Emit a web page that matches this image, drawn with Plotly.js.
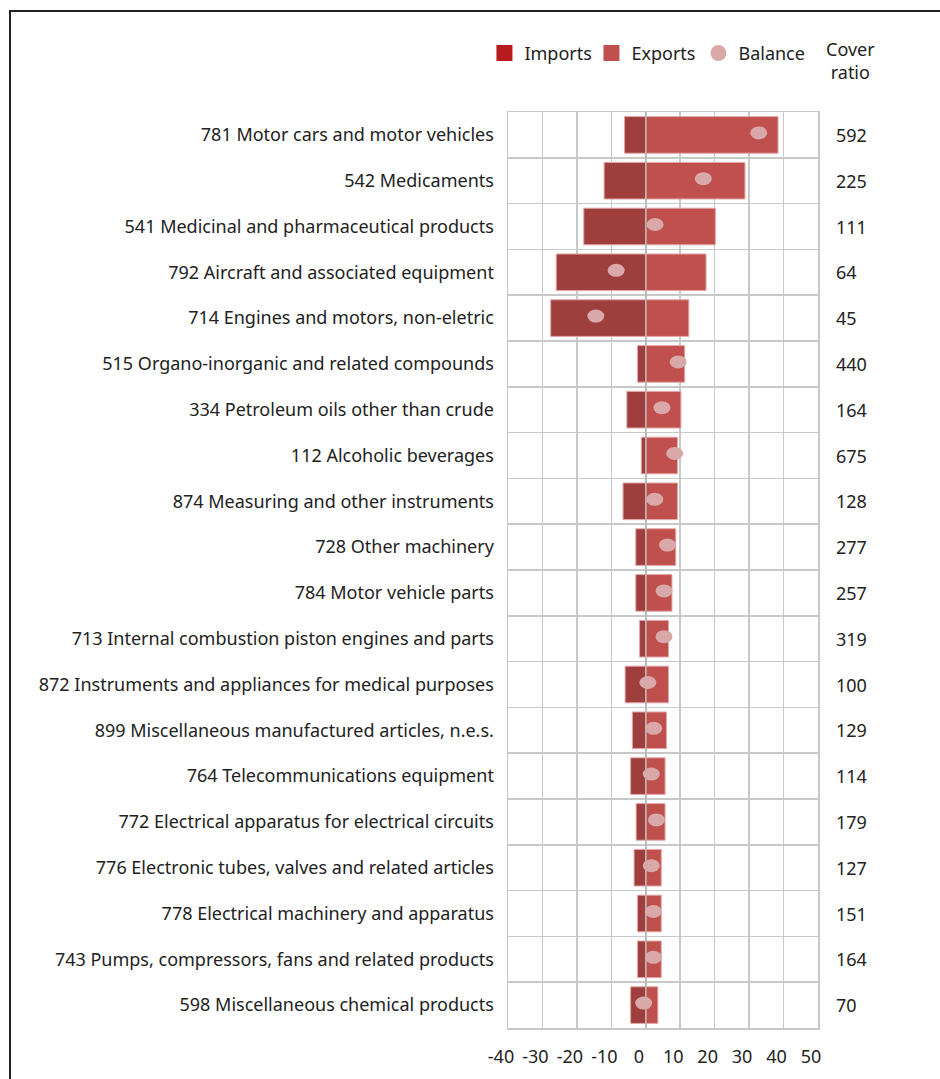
<!DOCTYPE html>
<html>
<head>
<meta charset="utf-8">
<script src="https://cdn.plot.ly/plotly-3.0.1.min.js"></script>
<style>
  html, body { margin: 0; padding: 0; background: #fff; }
  #chart { width: 940px; height: 1079px; }
  #frame { position: absolute; left: 9px; top: 10px; width: 1200px; height: 1200px;
           border-left: 2px solid #222; border-top: 2px solid #222; pointer-events: none; }
</style>
</head>
<body>
<div id="chart"></div>
<div id="frame"></div>
<script>
const categories = [
  "781 Motor cars and motor vehicles",
  "542 Medicaments",
  "541 Medicinal and pharmaceutical products",
  "792 Aircraft and associated equipment",
  "714 Engines and motors, non-eletric",
  "515 Organo-inorganic and related compounds",
  "334 Petroleum oils other than crude",
  "112 Alcoholic beverages",
  "874 Measuring and other instruments",
  "728 Other machinery",
  "784 Motor vehicle parts",
  "713 Internal combustion piston engines and parts",
  "872 Instruments and appliances for medical purposes",
  "899 Miscellaneous manufactured articles, n.e.s.",
  "764 Telecommunications equipment",
  "772 Electrical apparatus for electrical circuits",
  "776 Electronic tubes, valves and related articles",
  "778 Electrical machinery and apparatus",
  "743 Pumps, compressors, fans and related products",
  "598 Miscellaneous chemical products"
];
const imports = [6.2, 12.1, 18.0, 26.0, 27.6, 2.4, 5.5, 1.3, 6.6, 2.9, 2.9, 1.8, 6.0, 3.9, 4.4, 2.8, 3.4, 2.4, 2.4, 4.4];
const exports = [38.4, 28.8, 20.2, 17.5, 12.5, 11.3, 10.2, 9.2, 9.2, 8.7, 7.6, 6.6, 6.6, 6.0, 5.6, 5.6, 4.5, 4.5, 4.5, 3.5];
const balance = [32.8, 16.7, 2.7, -8.6, -14.5, 9.4, 4.7, 8.4, 2.6, 6.3, 5.3, 5.3, 0.6, 2.3, 1.6, 3.1, 1.6, 2.2, 2.2, -0.6];
const coverRatio = [592, 225, 111, 64, 45, 440, 164, 675, 128, 277, 257, 319, 100, 129, 114, 179, 127, 151, 164, 70];
const xTickVals = [-40, -30, -20, -10, 0, 10, 20, 30, 40, 50];

const FONT = "Noto Sans, sans-serif";
const TXT = "#222222";
const GRID = "#c8c8c8";

const traces = [
  {
    type: "bar", orientation: "h", name: "Imports", showlegend: false,
    y: categories, x: imports.map(v => -v), width: 0.8,
    marker: { color: "#9e3e3d", line: { color: "#e3a8a8", width: 1 } },
    hoverinfo: "skip"
  },
  {
    type: "bar", orientation: "h", name: "Exports", showlegend: false,
    y: categories, x: exports, width: 0.8,
    marker: { color: "#c0504d", line: { color: "#e3a8a8", width: 1 } },
    hoverinfo: "skip"
  },
  // legend entries
  { type: "scatter", mode: "markers", name: "Imports", x: [null], y: [null],
    marker: { symbol: "square", size: 20, color: "#b71b1c" } },
  { type: "scatter", mode: "markers", name: "Exports", x: [null], y: [null],
    marker: { symbol: "square", size: 20, color: "#c0504d" } },
  { type: "scatter", mode: "markers", name: "Balance", x: [null], y: [null],
    marker: { symbol: "circle", size: 20, color: "#d9a9a9" } }
];

const shapes = [
  { type: "line", xref: "x", yref: "paper", x0: 0, x1: 0, y0: 0, y1: 1,
    line: { color: "#b8b8b8", width: 1.5 }, layer: "above" }
];
balance.forEach((b, i) => {
  shapes.push({
    type: "circle", xref: "x", yref: "y",
    xsizemode: "pixel", ysizemode: "pixel",
    xanchor: b, yanchor: categories[i],
    x0: -8.5, x1: 8.5, y0: -4.5, y1: 8.5,
    fillcolor: "#d9a9a9", line: { width: 0 }, layer: "above"
  });
});

const annotations = coverRatio.map((c, i) => ({
  xref: "paper", yref: "y", x: 1, y: categories[i], xshift: 16, yshift: 0,
  xanchor: "left", yanchor: "middle", showarrow: false,
  text: String(c), font: { family: FONT, size: 18, color: TXT }
}));
annotations.push({
  xref: "paper", yref: "paper", x: 1, y: 1, xshift: 32, yshift: 52,
  xanchor: "center", yanchor: "middle", showarrow: false, align: "center",
  text: "Cover<br>ratio", font: { family: FONT, size: 18, color: TXT }
});

const layout = {
  width: 940, height: 1079,
  margin: { l: 508, r: 122, t: 112, b: 51 },
  paper_bgcolor: "#ffffff", plot_bgcolor: "#ffffff",
  font: { family: FONT, size: 18, color: TXT },
  barmode: "overlay",
  showlegend: true,
  legend: {
    orientation: "h", xref: "paper", yref: "paper",
    x: -0.076, y: 1.064, xanchor: "left", yanchor: "middle",
    font: { family: FONT, size: 18, color: TXT },
    entrywidth: 62, entrywidthmode: "pixels",
    bgcolor: "rgba(0,0,0,0)"
  },
  xaxis: {
    range: [-40, 50], tickvals: xTickVals, ticktext: xTickVals.map(String),
    showgrid: true, gridcolor: GRID, gridwidth: 1.5,
    zeroline: false, showline: true, mirror: true, linecolor: GRID, linewidth: 1.5,
    ticks: "", ticklabelstandoff: 12, ticklabelshift: -7,
    tickfont: { family: FONT, size: 18, color: TXT }, fixedrange: true
  },
  yaxis: {
    type: "category", categoryorder: "array", categoryarray: categories,
    autorange: "reversed", tickson: "boundaries",
    showgrid: true, gridcolor: GRID, gridwidth: 1.5,
    showline: true, mirror: true, linecolor: GRID, linewidth: 1.5,
    ticks: "", ticklabelstandoff: 9,
    tickfont: { family: FONT, size: 18, color: TXT }, fixedrange: true
  },
  shapes: shapes,
  annotations: annotations
};

Plotly.newPlot("chart", traces, layout, { displayModeBar: false, staticPlot: true });
</script>
</body>
</html>
